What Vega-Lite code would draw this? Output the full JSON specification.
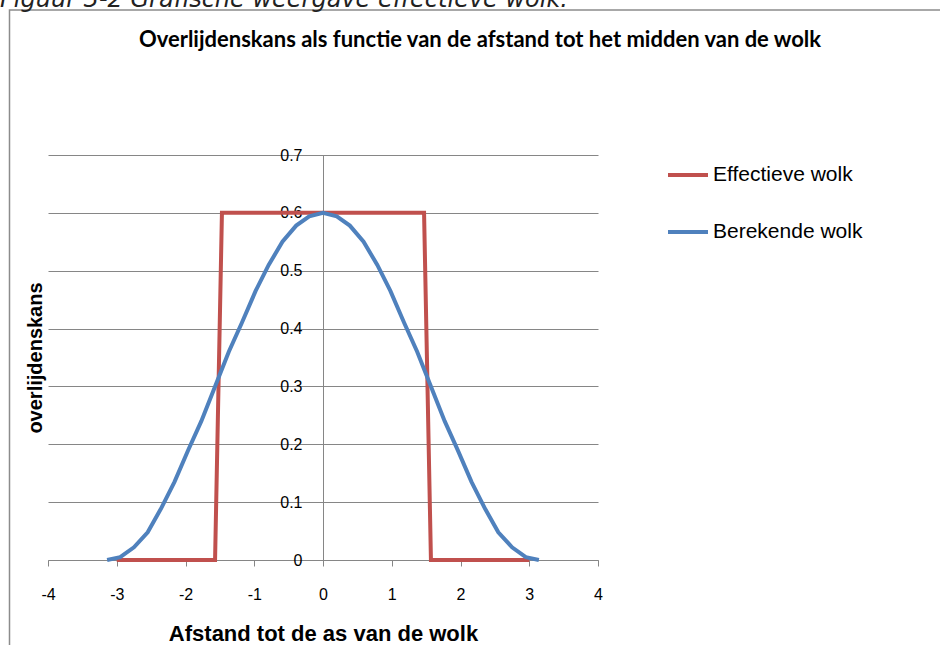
{
  "$schema": "https://vega.github.io/schema/vega-lite/v6.json",
  "width": 550,
  "height": 405,
  "autosize": {"type": "none"},
  "padding": {"left": 48, "top": 155, "right": 342, "bottom": 85},
  "background": "white",
  "config": {"view": {"stroke": null}},
  "title": {
    "text": "Figuur 3-2 Grafische weergave effectieve wolk.",
    "anchor": "start",
    "frame": "group",
    "dx": -48,
    "offset": -22,
    "baseline": "alphabetic",
    "font": "DejaVu Sans",
    "fontStyle": "italic",
    "fontWeight": "normal",
    "fontSize": 24,
    "color": "#222222"
  },
  "datasets": {
    "curves": [
      {"series": "Effectieve wolk", "x": -3, "y": 0},
      {"series": "Effectieve wolk", "x": -1.57, "y": 0},
      {"series": "Effectieve wolk", "x": -1.47, "y": 0.6},
      {"series": "Effectieve wolk", "x": 1.47, "y": 0.6},
      {"series": "Effectieve wolk", "x": 1.57, "y": 0},
      {"series": "Effectieve wolk", "x": 3, "y": 0},
      {"series": "Berekende wolk", "x": -3.14, "y": 0},
      {"series": "Berekende wolk", "x": -2.95, "y": 0.005},
      {"series": "Berekende wolk", "x": -2.75, "y": 0.022},
      {"series": "Berekende wolk", "x": -2.55, "y": 0.048},
      {"series": "Berekende wolk", "x": -2.36, "y": 0.088},
      {"series": "Berekende wolk", "x": -2.16, "y": 0.135},
      {"series": "Berekende wolk", "x": -1.96, "y": 0.19},
      {"series": "Berekende wolk", "x": -1.77, "y": 0.24},
      {"series": "Berekende wolk", "x": -1.57, "y": 0.3},
      {"series": "Berekende wolk", "x": -1.37, "y": 0.36},
      {"series": "Berekende wolk", "x": -1.18, "y": 0.41},
      {"series": "Berekende wolk", "x": -0.98, "y": 0.465},
      {"series": "Berekende wolk", "x": -0.79, "y": 0.51},
      {"series": "Berekende wolk", "x": -0.59, "y": 0.55},
      {"series": "Berekende wolk", "x": -0.39, "y": 0.578},
      {"series": "Berekende wolk", "x": -0.2, "y": 0.594},
      {"series": "Berekende wolk", "x": 0, "y": 0.6},
      {"series": "Berekende wolk", "x": 0.2, "y": 0.594},
      {"series": "Berekende wolk", "x": 0.39, "y": 0.578},
      {"series": "Berekende wolk", "x": 0.59, "y": 0.55},
      {"series": "Berekende wolk", "x": 0.79, "y": 0.51},
      {"series": "Berekende wolk", "x": 0.98, "y": 0.465},
      {"series": "Berekende wolk", "x": 1.18, "y": 0.41},
      {"series": "Berekende wolk", "x": 1.37, "y": 0.36},
      {"series": "Berekende wolk", "x": 1.57, "y": 0.3},
      {"series": "Berekende wolk", "x": 1.77, "y": 0.24},
      {"series": "Berekende wolk", "x": 1.96, "y": 0.19},
      {"series": "Berekende wolk", "x": 2.16, "y": 0.135},
      {"series": "Berekende wolk", "x": 2.36, "y": 0.088},
      {"series": "Berekende wolk", "x": 2.55, "y": 0.048},
      {"series": "Berekende wolk", "x": 2.75, "y": 0.022},
      {"series": "Berekende wolk", "x": 2.95, "y": 0.005},
      {"series": "Berekende wolk", "x": 3.14, "y": 0}
    ]
  },
  "layer": [
    {
      "data": {"values": [{}]},
      "mark": {"type": "rect", "fillOpacity": 0, "stroke": "#8c8c8c", "strokeWidth": 1.5, "clip": false},
      "encoding": {
        "x": {
          "datum": -4.56,
          "type": "quantitative",
          "scale": {"domain": [-4, 4], "nice": false},
          "axis": {
            "orient": "top",
            "labels": false,
            "ticks": false,
            "domain": false,
            "grid": false,
            "title": "Overlijdenskans als functie van de afstand tot het midden van de wolk",
            "titleX": 431.5,
            "titleY": -109,
            "titleAlign": "center",
            "titleBaseline": "alphabetic",
            "titleFont": "Lato",
            "titleFontWeight": "bold",
            "titleFontSize": 22,
            "titleColor": "black"
          }
        },
        "x2": {"datum": 20},
        "y": {"datum": 0.9506, "type": "quantitative", "scale": {"domain": [0, 0.7], "nice": false}, "axis": null},
        "y2": {"datum": -1}
      }
    },
    {
      "data": {"name": "curves"},
      "transform": [{"filter": "datum.series === 'Effectieve wolk'"}],
      "mark": {"type": "line", "strokeWidth": 4},
      "encoding": {
        "x": {
          "field": "x",
          "type": "quantitative",
          "scale": {"domain": [-4, 4], "nice": false},
          "axis": {
            "values": [-4, -3, -2, -1, 0, 1, 2, 3, 4],
            "labelExpr": "toString(datum.value)",
            "grid": false,
            "domainColor": "#868686",
            "tickColor": "#868686",
            "tickSize": 6,
            "labelPadding": 20,
            "labelFont": "Liberation Sans",
            "labelFontSize": 16,
            "labelColor": "black",
            "labelFlush": false,
            "labelOverlap": false,
            "title": "Afstand tot de as van de wolk",
            "titleFont": "Liberation Sans",
            "titleFontSize": 22,
            "titleFontWeight": "bold",
            "titleColor": "black",
            "titleY": 80,
            "titleBaseline": "alphabetic"
          }
        },
        "y": {
          "field": "y",
          "type": "quantitative",
          "scale": {"domain": [0, 0.7], "nice": false},
          "axis": {
            "values": [0, 0.1, 0.2, 0.3, 0.4, 0.5, 0.6, 0.7],
            "labelExpr": "toString(datum.value)",
            "offset": -275,
            "ticks": false,
            "tickSize": 0,
            "labelPadding": 21,
            "labelFont": "Liberation Sans",
            "labelFontSize": 16,
            "labelColor": "black",
            "labelFlush": false,
            "labelOverlap": false,
            "domainColor": "#868686",
            "grid": true,
            "gridColor": "#868686",
            "gridOpacity": 1,
            "title": "overlijdenskans",
            "titleX": -288,
            "titleY": 202.5,
            "titleAngle": 270,
            "titleAlign": "center",
            "titleBaseline": "middle",
            "titleFont": "Liberation Sans",
            "titleFontSize": 20,
            "titleFontWeight": "bold",
            "titleColor": "black"
          }
        },
        "color": {
          "field": "series",
          "type": "nominal",
          "scale": {"domain": ["Effectieve wolk", "Berekende wolk"], "range": ["#C0504D", "#4F81BD"]},
          "legend": {
            "orient": "none",
            "legendX": 618,
            "legendY": -2,
            "title": null,
            "symbolType": "stroke",
            "symbolSize": 1600,
            "symbolStrokeWidth": 4,
            "labelFont": "Liberation Sans",
            "labelFontSize": 21,
            "labelColor": "black",
            "labelOffset": 3,
            "rowPadding": 25
          }
        }
      }
    },
    {
      "data": {"name": "curves"},
      "transform": [{"filter": "datum.series === 'Berekende wolk'"}],
      "mark": {"type": "line", "strokeWidth": 4},
      "encoding": {
        "x": {"field": "x", "type": "quantitative", "scale": {"domain": [-4, 4], "nice": false}, "axis": null},
        "y": {"field": "y", "type": "quantitative", "scale": {"domain": [0, 0.7], "nice": false}, "axis": null},
        "color": {"field": "series", "type": "nominal"}
      }
    }
  ],
  "resolve": {"axis": {"x": "independent", "y": "independent"}}
}
